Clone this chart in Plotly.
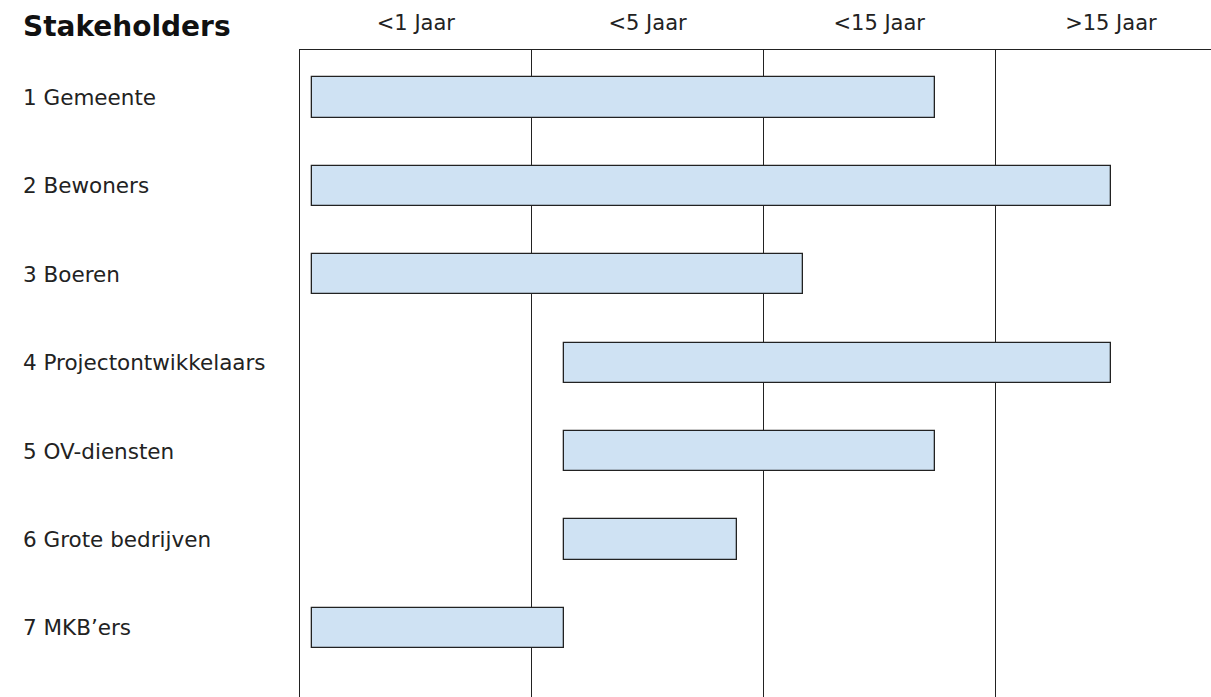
import plotly.graph_objects as go

title = "Stakeholders"
stakeholders = ["1 Gemeente", "2 Bewoners", "3 Boeren", "4 Projectontwikkelaars",
                "5 OV-diensten", "6 Grote bedrijven", "7 MKB\u2019ers"]
start = [0.05, 0.05, 0.05, 1.14, 1.14, 1.14, 0.05]
end = [2.74, 3.5, 2.17, 3.5, 2.74, 1.885, 1.14]
periods = ["<1 Jaar", "<5 Jaar", "<15 Jaar", ">15 Jaar"]
period_pos = [0.5, 1.5, 2.5, 3.5]
boundaries = [1, 2, 3]

FONT = "DejaVu Sans"
LINE = "#222222"

fig = go.Figure()
fig.add_trace(go.Bar(
    orientation="h",
    y=stakeholders,
    x=[e - s for s, e in zip(start, end)],
    base=start,
    width=0.455,
    marker=dict(color="#cfe2f3", line=dict(color=LINE, width=1.3)),
    hoverinfo="skip",
    showlegend=False,
))

for name in stakeholders:
    fig.add_annotation(x=0, xref="paper", xshift=-279, y=name, yref="y",
                       text=name, showarrow=False, xanchor="left", yanchor="middle",
                       font=dict(family=FONT, size=21.5, color="#222"))

fig.add_annotation(x=0, xref="paper", xshift=-279, y=1, yref="paper", yshift=24,
                   text="<b>" + title + "</b>", showarrow=False, xanchor="left",
                   yanchor="middle", font=dict(family=FONT, size=28, color="#111"))

fig.update_layout(
    width=1211, height=697,
    margin=dict(l=300, r=0, t=50, b=0),
    paper_bgcolor="white", plot_bgcolor="white",
    bargap=0,
    xaxis=dict(
        range=[0, 3.932], side="top",
        tickmode="array", tickvals=period_pos, ticktext=periods,
        ticks="", showgrid=False, zeroline=False,
        showline=True, linecolor=LINE, linewidth=1.3,
        tickfont=dict(family=FONT, size=21, color="#222"),
        ticklabelstandoff=10,
        minor=dict(tickmode="array", tickvals=boundaries, showgrid=True,
                   gridcolor=LINE, gridwidth=1.3, ticks=""),
        fixedrange=True,
    ),
    yaxis=dict(
        range=[6.782, -0.537], showticklabels=False, ticks="",
        showgrid=False, zeroline=False,
        showline=True, linecolor=LINE, linewidth=1.3,
        fixedrange=True,
    ),
)

fig.write_html(
    "out.html",
    config={"displayModeBar": False},
    post_script="document.body.style.margin='0';document.body.style.overflow='hidden';",
)
